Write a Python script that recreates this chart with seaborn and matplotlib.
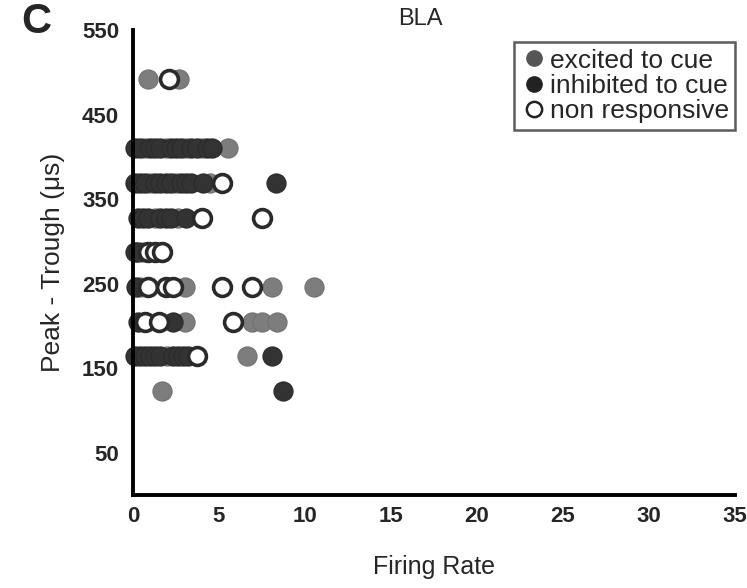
import numpy as np
import pandas as pd
import seaborn as sns
import matplotlib
matplotlib.use("Agg")
import matplotlib.pyplot as plt
from matplotlib.lines import Line2D

# firing rate (x) and peak-trough width in us (y) for each group
exc_rate = [0.9, 2.7,
            0.7, 1.9, 3.1, 4.0, 5.5,
            1.0, 2.5, 4.5,
            1.3, 2.6,
            0.6,
            0.4, 3.0, 8.1, 10.5,
            3.0, 6.9, 7.5, 8.4,
            2.0, 6.6,
            1.7]
exc_pt = [492, 492,
          410, 410, 410, 410, 410,
          369, 369, 369,
          328, 328,
          287,
          246, 246, 246, 246,
          205, 205, 205, 205,
          164, 164,
          123]

inh_rate = [0.1, 0.4, 1.0, 1.3, 1.6, 2.2, 2.5, 2.8, 3.4, 3.7, 4.3, 4.6,
            0.1, 0.4, 0.7, 1.3, 1.6, 1.9, 2.2, 2.8, 3.1, 3.4, 4.1, 8.3,
            0.3, 0.6, 0.9, 1.6, 1.9, 2.2, 3.1,
            0.1, 0.3,
            0.2,
            0.3, 2.3,
            0.1, 0.4, 0.7, 1.0, 1.3, 1.6, 2.3, 2.6, 2.9, 3.2, 8.1,
            8.7]
inh_pt = [410] * 12 + [369] * 12 + [328] * 7 + [287] * 2 + [246] + [205] * 2 + [164] * 11 + [123]

non_rate = [2.1,
            5.2,
            4.0, 7.5,
            0.9, 1.3, 1.7,
            0.9, 1.9, 2.3, 5.2, 6.9,
            0.7, 1.5, 5.8,
            3.7]
non_pt = [492,
          369,
          328, 328,
          287, 287, 287,
          246, 246, 246, 246, 246,
          205, 205, 205,
          164]

group_names = ["excited to cue", "inhibited to cue", "non responsive"]
y_ticks = [0, 50, 100, 150, 200, 250, 300, 350, 400, 450, 500, 550]
y_labels = ["", "50", "", "150", "", "250", "", "350", "", "450", "", "550"]
x_ticks = [0, 5, 10, 15, 20, 25, 30, 35]

sns.set_style("white")
plt.rcParams['font.family'] = ['Liberation Sans', 'DejaVu Sans']

exc = pd.DataFrame({'rate': exc_rate, 'pt': exc_pt})
inh = pd.DataFrame({'rate': inh_rate, 'pt': inh_pt})
non = pd.DataFrame({'rate': non_rate, 'pt': non_pt})

fig, ax = plt.subplots(figsize=(7.47, 5.88), dpi=100)
fig.subplots_adjust(left=0.178, right=0.984, bottom=0.158, top=0.949)

sns.scatterplot(data=exc, x='rate', y='pt', ax=ax, s=190, color='#7d7d7d',
                edgecolor='#707070', linewidth=0.8, zorder=3, legend=False, clip_on=False)
sns.scatterplot(data=inh, x='rate', y='pt', ax=ax, s=190, color='#333333',
                edgecolor='#2a2a2a', linewidth=0.8, zorder=3, legend=False, clip_on=False)
sns.scatterplot(data=non, x='rate', y='pt', ax=ax, s=165, facecolor='white',
                edgecolor='#2a2a2a', linewidth=2.6, zorder=4, legend=False, clip_on=False)

ax.set_xlim(0, 35)
ax.set_ylim(0, 550)
ax.set_yticks(y_ticks)
ax.set_yticklabels(y_labels)
ax.set_xticks(x_ticks)
ax.set_xticklabels([str(t) for t in x_ticks])
ax.tick_params(axis='y', direction='in', length=8, width=2.5, labelsize=16, pad=10)
ax.tick_params(axis='x', length=0, labelsize=16, pad=8)
for lab in ax.get_xticklabels() + ax.get_yticklabels():
    lab.set_fontweight('bold')

sns.despine(ax=ax)
for side in ['left', 'bottom']:
    ax.spines[side].set_linewidth(2.8)
    ax.spines[side].set_color('black')
    ax.spines[side].set_zorder(5)

ax.set_xlabel('Firing Rate', fontsize=18, labelpad=20)
ax.set_ylabel('Peak - Trough (\u03bcs)', fontsize=19, labelpad=12)

fig.text(420 / 747, 1 - 19 / 588, 'BLA', fontsize=17, ha='center', va='center')
fig.text(36 / 747, 1 - 22 / 588, 'C', fontsize=30, fontweight='heavy',
         ha='center', va='center')

handles = [
    Line2D([], [], marker='o', linestyle='', markersize=11, markerfacecolor='#555555',
           markeredgecolor='#555555'),
    Line2D([], [], marker='o', linestyle='', markersize=11, markerfacecolor='#222222',
           markeredgecolor='#222222'),
    Line2D([], [], marker='o', linestyle='', markersize=11, markerfacecolor='white',
           markeredgecolor='#222222', markeredgewidth=1.8),
]
leg = ax.legend(handles, group_names, loc='upper right', bbox_to_anchor=(1.005, 0.98),
                fontsize=19, frameon=True, fancybox=False, handletextpad=0.1,
                handlelength=1.0, borderpad=0.25, labelspacing=0.05, borderaxespad=0.1)
leg.get_frame().set_edgecolor('#333333')
leg.get_frame().set_linewidth(1.8)

plt.savefig('out.png', dpi=100)
